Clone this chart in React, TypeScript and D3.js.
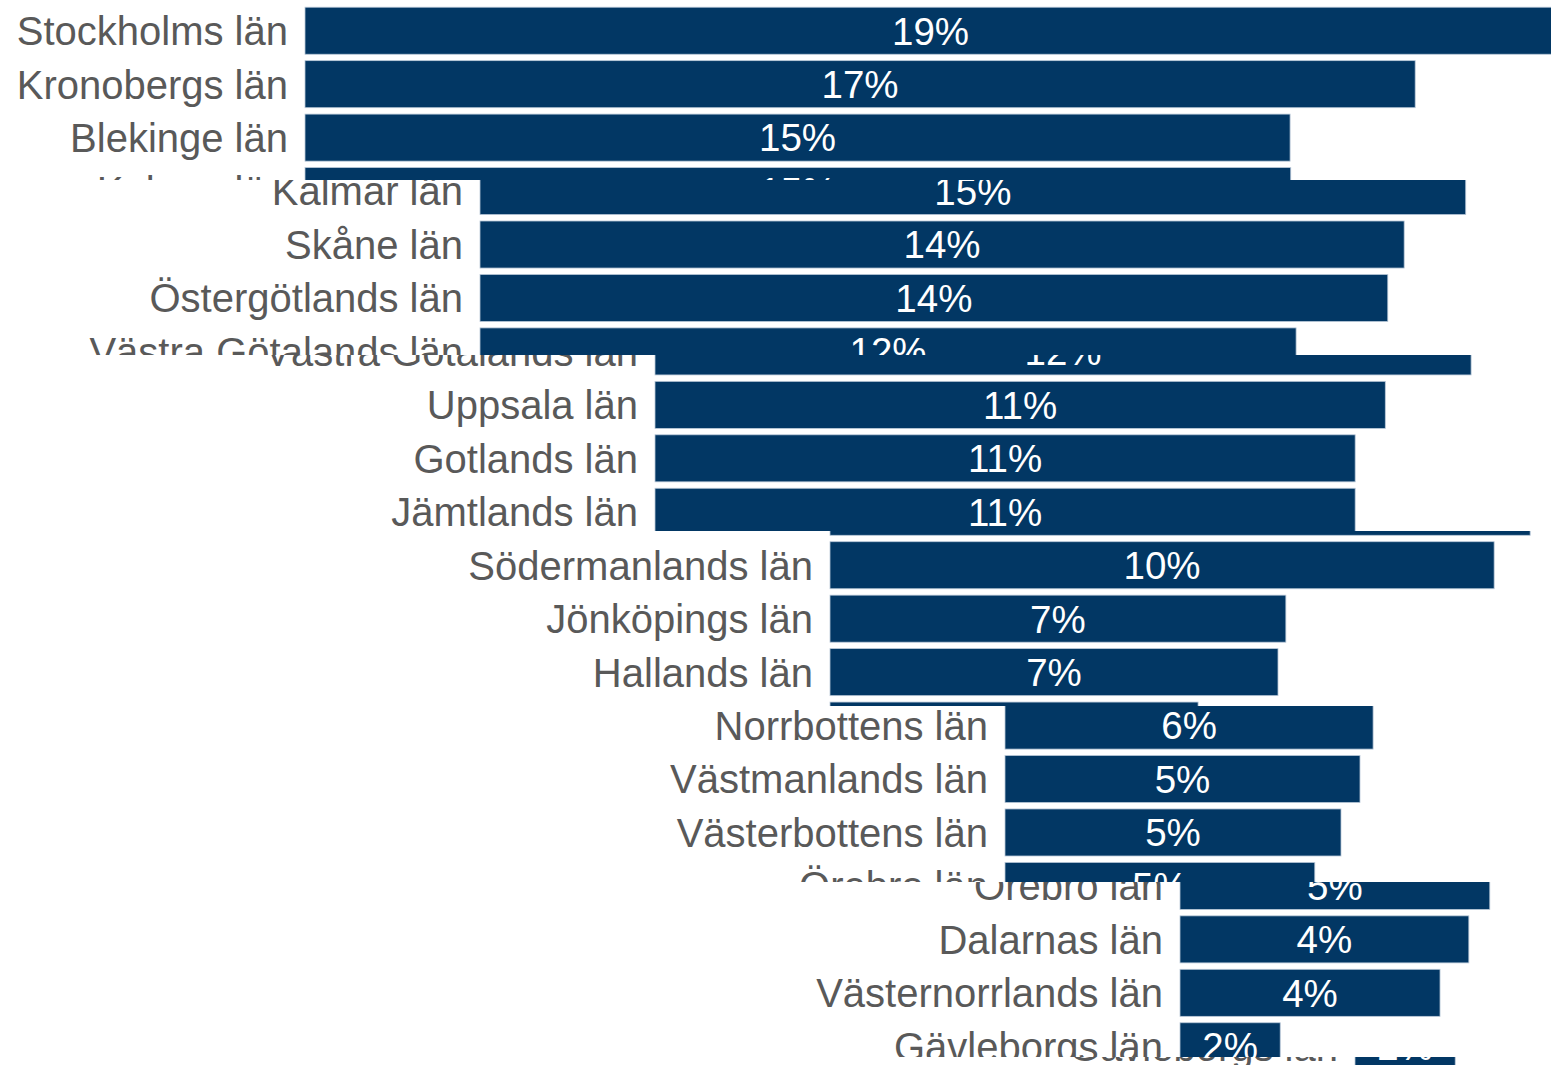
import React, { useEffect, useRef } from 'react';
import * as d3 from 'd3';

const WIDTH = 1551;
const HEIGHT = 1065;

const counties = [
  'Stockholms län', 'Kronobergs län', 'Blekinge län', 'Kalmar län', 'Skåne län',
  'Östergötlands län', 'Västra Götalands län', 'Uppsala län', 'Gotlands län',
  'Jämtlands län', 'Södermanlands län', 'Jönköpings län', 'Hallands län',
  'Norrbottens län', 'Västmanlands län', 'Västerbottens län', 'Örebro län',
  'Dalarnas län', 'Västernorrlands län', 'Gävleborgs län',
];
const shares = [
  19.1, 16.95, 15.04, 15.05, 14.11,
  13.86, 12.46, 11.15, 10.69,
  10.69, 10.14, 6.96, 6.84,
  5.62, 5.42, 5.13, 4.73,
  4.41, 3.97, 1.53,
];

// the picture is the same chart pasted in bands, each shifted right
const tileTops = [0, 180, 355, 531, 706, 882, 1057];
const TILE_SHIFT = 175;

const BAR_X = 305;
const LABEL_X = 288;
const FONT = '"Liberation Sans", Arial, sans-serif';

const y = d3.scaleBand<string>()
  .domain(counties)
  .range([4, 1073])
  .paddingInner(0.12)
  .paddingOuter(0.06);
const x = d3.scaleLinear().domain([0, 19.1]).range([0, 1251]);
const fmt = (v: number) => d3.format('.0f')(v) + '%';

function drawChart(g: any, top: number, bottom: number) {
  // only the rows that reach into this band
  const rows = counties
    .map((c, i) => ({ c, v: shares[i] }))
    .filter(d => y(d.c)! - 8 < bottom && y(d.c)! + y.bandwidth() + 8 > top);

  g.selectAll('rect.bar')
    .data(rows)
    .join('rect')
    .attr('class', 'bar')
    .attr('x', BAR_X)
    .attr('y', d => y(d.c)!)
    .attr('width', d => x(d.v))
    .attr('height', y.bandwidth())
    .attr('fill', '#023764')
    .attr('stroke', '#b9c8d8')
    .attr('stroke-width', 0.8);

  g.selectAll('text.name')
    .data(rows)
    .join('text')
    .attr('class', 'name')
    .attr('x', LABEL_X)
    .attr('y', d => y(d.c)! + y.bandwidth() / 2)
    .attr('dy', '0.36em')
    .attr('text-anchor', 'end')
    .attr('font-family', FONT)
    .attr('font-size', 40)
    .attr('fill', '#595959')
    .text(d => d.c);

  g.selectAll('text.value')
    .data(rows)
    .join('text')
    .attr('class', 'value')
    .attr('x', d => BAR_X + x(d.v) / 2)
    .attr('y', d => y(d.c)! + y.bandwidth() / 2)
    .attr('dy', '0.36em')
    .attr('text-anchor', 'middle')
    .attr('font-family', FONT)
    .attr('font-size', 38.5)
    .attr('fill', '#ffffff')
    .text(d => fmt(d.v));
}

export default function App() {
  const svgRef = useRef<SVGSVGElement>(null);

  useEffect(() => {
    const svg = d3.select(svgRef.current);
    svg.selectAll('*').remove();
    const defs = svg.append('defs');

    tileTops.forEach((top, i) => {
      const bottom = i + 1 < tileTops.length ? tileTops[i + 1] : HEIGHT;
      defs.append('clipPath')
        .attr('id', `tile-${i}`)
        .append('rect')
        .attr('x', 0)
        .attr('y', top)
        .attr('width', WIDTH)
        .attr('height', bottom - top);

      const tile = svg.append('g').attr('clip-path', `url(#tile-${i})`);
      tile.append('rect')
        .attr('x', 0)
        .attr('y', top)
        .attr('width', WIDTH)
        .attr('height', bottom - top)
        .attr('fill', '#ffffff');
      const inner = tile.append('g').attr('transform', `translate(${TILE_SHIFT * i},0)`);
      drawChart(inner, top, bottom);
    });
  }, []);

  return (
    <svg
      ref={svgRef}
      xmlns="http://www.w3.org/2000/svg"
      width={WIDTH}
      height={HEIGHT}
      style={{ position: 'absolute', left: 0, top: 0, display: 'block', background: '#fff' }}
    />
  );
}
